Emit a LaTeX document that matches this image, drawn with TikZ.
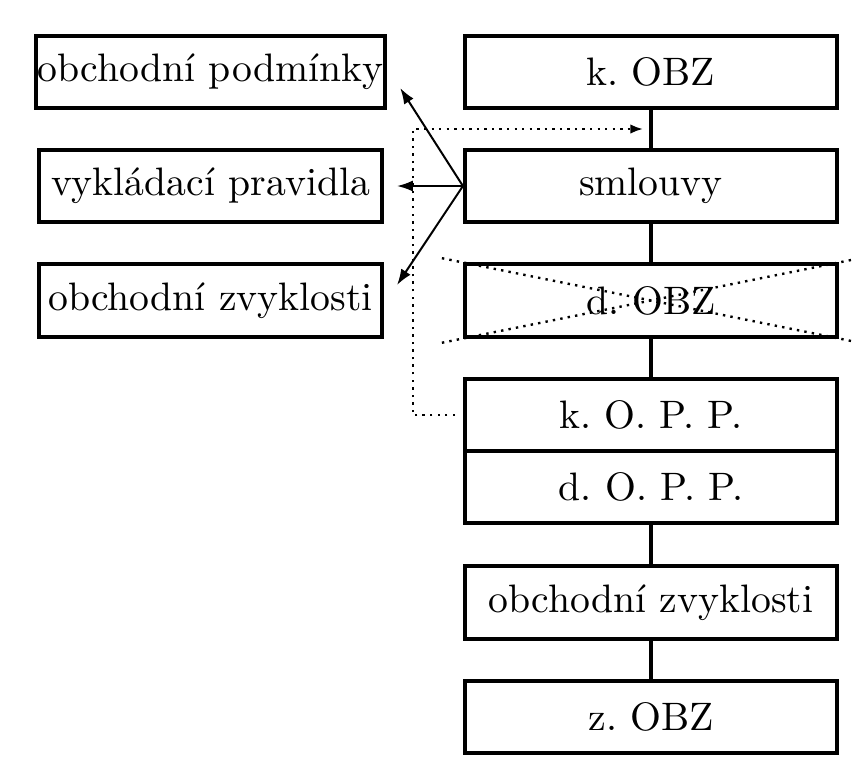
\documentclass[tikz,border=0pt]{standalone}
\usepackage{fontspec}
\usetikzlibrary{arrows.meta}
\frenchspacing

\begin{document}
\begin{tikzpicture}[
	box/.style={draw, line width=1pt, minimum height=0.638cm, inner xsep=0.5pt},
	levy/.style={box, minimum width=3.036cm},
	pravy/.style={box, minimum width=3.293cm},
	spoj/.style={line width=1pt},
	sipka/.style={line width=0.5pt, -{Latex[length=4pt,width=2.8pt]}},
	tecky/.style={line width=0.6pt, dash pattern=on 0.6pt off 1.3pt}]

	%Size of the picture
	\useasboundingbox (0,0) rectangle (7.558,-6.903);

	%Centres of the two columns
	\pgfmathsetmacro{\xl}{1.863}
	\pgfmathsetmacro{\xr}{5.761}

	%Left column
	\node[levy] (podminky) at (\xl,-0.637) {obchodní podmínky};
	\node[levy] (pravidla) at (\xl,-1.646) {vykládací pravidla};
	\node[levy] (zvyklostiL) at (\xl,-2.659) {obchodní zvyklosti};

	%Right column
	%k. O. P. P. and d. O. P. P. share one border
	\node[pravy] (kobz) at (\xr,-0.637) {k. OBZ};
	\node[pravy] (smlouvy) at (\xr,-1.646) {smlouvy};
	\node[pravy] (dobz) at (\xr,-2.659) {d. OBZ};
	\node[pravy] (kopp) at (\xr,-3.675) {k. O. P. P.};
	\node[pravy] (dopp) at (\xr,-4.313) {d. O. P. P.};
	\node[pravy] (zvyklosti) at (\xr,-5.332) {obchodní zvyklosti};
	\node[pravy] (zobz) at (\xr,-6.345) {z. OBZ};

	%Vertical connections
	\draw[spoj] (kobz) -- coordinate (kmid) (smlouvy);
	\draw[spoj] (smlouvy) -- (dobz);
	\draw[spoj] (dobz) -- (kopp);
	\draw[spoj] (dopp) -- (zvyklosti);
	\draw[spoj] (zvyklosti) -- (zobz);

	%Crossed out d. OBZ
	\draw[tecky, shorten <=-0.19cm, shorten >=-0.19cm] (dobz.north west) -- (dobz.south east);
	\draw[tecky, shorten <=-0.19cm, shorten >=-0.19cm] (dobz.south west) -- (dobz.north east);

	%Arrows from smlouvy
	\draw[sipka] (smlouvy.west) -- ([xshift=0.115cm,yshift=-0.142cm]podminky.east);
	\draw[sipka] (smlouvy.west) -- ([xshift=0.115cm]pravidla.east);
	\draw[sipka] (smlouvy.west) -- ([xshift=0.115cm,yshift=0.137cm]zvyklostiL.east);

	%Dotted path from k. O. P. P.
	\draw[tecky, shorten <=0.07cm, shorten >=0.07cm, -{Latex[length=3.2pt,width=2.4pt]}] (kopp.west) -- ++(-0.443,0) |- (kmid);

\end{tikzpicture}
\end{document}
